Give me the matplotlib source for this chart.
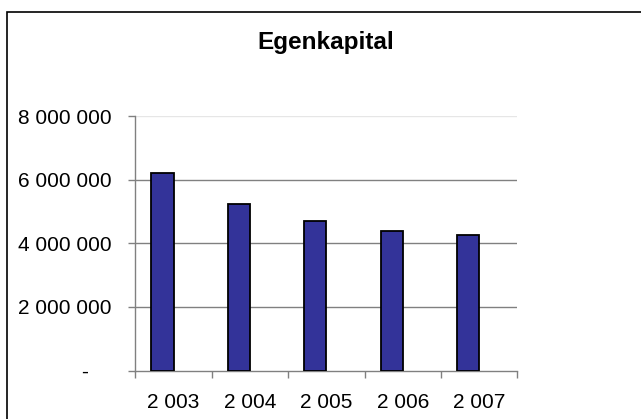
import matplotlib
matplotlib.use("Agg")
import matplotlib.pyplot as plt
from matplotlib.patches import Rectangle

# data
years = ["2 003", "2 004", "2 005", "2 006", "2 007"]
egenkapital = [6220000, 5230000, 4710000, 4400000, 4270000]
yticks = [0, 2000000, 4000000, 6000000, 8000000]
ylabels = ["-    ", "2 000 000", "4 000 000", "6 000 000", "8 000 000"]

plt.rcParams['font.family'] = ['Liberation Sans', 'DejaVu Sans']

fig = plt.figure(figsize=(6.41, 4.19), dpi=100)
W, H = 641, 419
fig.patches.append(Rectangle((7 / W, 0 - 0.1), 2, 1 - 12 / H + 0.1, transform=fig.transFigure,
                             fill=False, edgecolor='black', linewidth=1.2, zorder=0))

ax = fig.add_axes([135.3 / W, 1 - 370.5 / H, (517.3 - 135.3) / W, (370.5 - 116) / H])

x = list(range(len(years)))
bw = 0.29
ax.bar([i - bw / 2 for i in x], egenkapital, width=bw, color='#333399',
       edgecolor='black', linewidth=1.3, zorder=3)

ax.set_xlim(-0.5, len(years) - 0.5)
ax.set_ylim(0, 8000000)

# gridlines
for v in yticks[1:-1]:
    ax.axhline(v, color='#808080', linewidth=1.0, zorder=1)
ax.axhline(yticks[-1], color='#e6e6e6', linewidth=1.0, zorder=1)

ax.set_yticks(yticks)
ax.set_yticklabels(ylabels, fontsize=15)
ax.tick_params(axis='y', length=5, width=1, color='#808080', pad=12)

ax.set_xticks([i - 0.5 for i in range(len(years) + 1)])
ax.set_xticklabels([])
ax.set_xticks(x, minor=True)
ax.set_xticklabels(years, minor=True, fontsize=15)
ax.tick_params(axis='x', which='major', length=5, width=1, color='#808080')
ax.tick_params(axis='x', which='minor', length=0, pad=16)

for s in ['top', 'right']:
    ax.spines[s].set_visible(False)
for s in ['left', 'bottom']:
    ax.spines[s].set_color('#808080')
    ax.spines[s].set_linewidth(1.0)

fig.text(326 / W, 1 - 42 / H, "Egenkapital", ha='center', va='center',
         fontsize=17.5, fontweight='bold')

fig.savefig("out.png", dpi=100)
